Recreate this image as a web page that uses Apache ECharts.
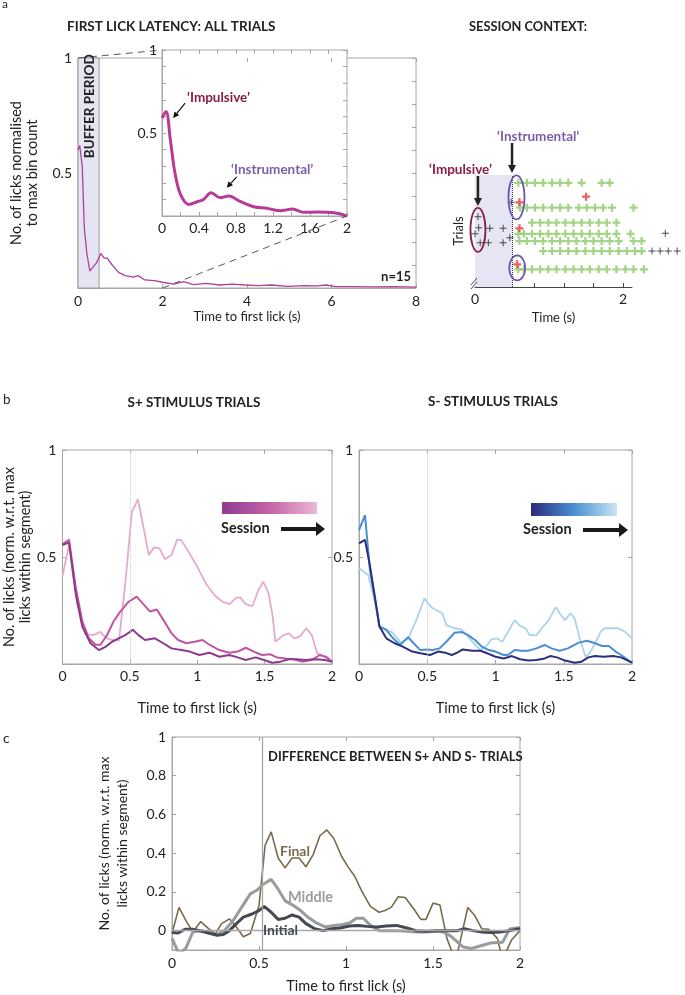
<!DOCTYPE html>
<html><head><meta charset="utf-8">
<script src="https://cdn.jsdelivr.net/npm/echarts@6/dist/echarts.min.js"></script>
<style>html,body{margin:0;padding:0;background:#fff}#c{width:685px;height:995px}</style>
</head><body><div id="c"></div>
<script>
// ================= DATA =================
// Panel a: first lick latency, all trials (0-8 s)
const allTrialsTime  = [0,0.04,0.1,0.15,0.21,0.28,0.35,0.44,0.54,0.62,0.69,0.81,0.96,1.12,1.31,1.42,1.58,1.81,2.0,2.27,2.5,2.73,3.04,3.35,3.65,3.96,4.27,4.58,4.96,5.35,5.65,5.88,6.1,6.5,7.0,7.5,8.0];
const allTrialsLicks = [0.6,0.62,0.53,0.26,0.15,0.073,0.09,0.11,0.15,0.13,0.13,0.10,0.068,0.054,0.047,0.054,0.035,0.032,0.025,0.017,0.028,0.015,0.02,0.013,0.017,0.013,0.01,0.013,0.007,0.01,0.009,0.013,0.006,0.006,0.005,0.006,0.004];
// Panel a inset (0-2 s)
const insetTime  = [0,0.043,0.09,0.14,0.2,0.29,0.38,0.45,0.53,0.63,0.72,0.85,0.99,1.14,1.28,1.41,1.53,1.68,1.86,2.0];
const insetLicks = [0.59,0.63,0.46,0.26,0.13,0.07,0.086,0.10,0.14,0.11,0.12,0.086,0.056,0.046,0.032,0.042,0.022,0.024,0.02,0.0];
// Panel a session context raster: trial rows and lick times
const greenRows = [9.3, 7.08, 5.74, 4.75, 4.1, 3.21, 1.58];
const greenLickTimes = [
  [0.585,0.70,0.81,0.92,1.04,1.15,1.26,1.44,1.71,1.82],
  [0.61,0.70,0.81,0.92,1.04,1.15,1.26,1.40,1.51,1.62,1.73,1.85,2.14],
  [0.77,0.88,0.99,1.10,1.22,1.33,1.44,1.55,1.67,1.78,1.91],
  [0.585,0.66,0.77,0.88,0.99,1.10,1.22,1.33,1.44,1.55,1.67,1.78,1.91,2.1],
  [0.6,0.7,0.81,0.92,1.04,1.15,1.26,1.37,1.49,1.6,1.71,1.82,1.94,2.14,2.25],
  [0.92,1.04,1.15,1.26,1.37,1.49,1.60,1.71,1.82,1.94,2.05,2.16,2.25],
  [0.585,0.66,0.77,0.88,0.99,1.10,1.22,1.33,1.44,1.55,1.67,1.78,1.91,2.03,2.14,2.28]
];
const blackLickTimes  = [0.04,0.05,0.0,0.07,0.2,0.38,0.18,0.38,0.47,0.49,2.57,2.39,2.5,2.61,2.73];
const blackLickTrials = [6.28,5.3,4.75,3.96,5.24,5.24,3.96,3.96,4.4,7.56,4.79,3.21,3.21,3.21,3.21];
const redLickTimes  = [1.5,0.6,0.6,0.57];
const redLickTrials = [8.06,7.56,5.24,2.03];
// Panel b: S+ stimulus trials
const sPlusInitialT = [0,0.049,0.098,0.147,0.208,0.27,0.319,0.368,0.417,0.466,0.522,0.564,0.613,0.686,0.748,0.809,0.882,0.944,1.017,1.09,1.164,1.238,1.3,1.36,1.434,1.495,1.556,1.618,1.679,1.74,1.8,1.875,1.95,2.0];
const sPlusInitialV = [0.556,0.567,0.33,0.175,0.097,0.065,0.08,0.104,0.12,0.135,0.16,0.135,0.112,0.12,0.097,0.073,0.065,0.058,0.042,0.053,0.034,0.042,0.031,0.019,0.031,0.019,0.006,0.011,0.022,0.022,0.019,0.022,0.019,0.01];
const sPlusMiddleT = [0,0.049,0.098,0.147,0.196,0.245,0.282,0.331,0.38,0.429,0.49,0.551,0.6,0.65,0.7,0.75,0.81,0.858,0.919,0.98,1.04,1.09,1.164,1.238,1.3,1.36,1.42,1.48,1.544,1.593,1.654,1.716,1.777,1.85,1.91,1.96,2.0];
const sPlusMiddleV = [0.56,0.58,0.36,0.2,0.12,0.09,0.09,0.135,0.2,0.245,0.29,0.315,0.28,0.245,0.255,0.205,0.143,0.112,0.097,0.104,0.112,0.09,0.065,0.053,0.058,0.076,0.058,0.042,0.045,0.03,0.026,0.022,0.011,0.019,0.042,0.031,0.01];
const sPlusFinalT = [0,0.05,0.11,0.17,0.23,0.28,0.33,0.38,0.42,0.47,0.515,0.56,0.61,0.64,0.68,0.72,0.76,0.81,0.85,0.88,0.94,1.0,1.07,1.13,1.19,1.24,1.29,1.32,1.36,1.41,1.45,1.49,1.53,1.56,1.58,1.64,1.68,1.72,1.76,1.81,1.85,1.89,1.92,1.96,2.0];
const sPlusFinalV = [0.41,0.56,0.28,0.14,0.135,0.15,0.12,0.11,0.11,0.40,0.71,0.77,0.61,0.51,0.545,0.54,0.49,0.51,0.58,0.58,0.52,0.455,0.37,0.32,0.29,0.28,0.31,0.31,0.28,0.27,0.34,0.385,0.33,0.22,0.104,0.135,0.143,0.12,0.128,0.167,0.135,0.05,0.042,0.034,0.01];
// Panel b: S- stimulus trials
const sMinusInitialT = [0,0.044,0.08,0.12,0.15,0.2,0.26,0.32,0.39,0.45,0.52,0.58,0.63,0.68,0.72,0.76,0.83,0.89,0.94,1.0,1.06,1.12,1.18,1.24,1.3,1.36,1.4,1.45,1.51,1.58,1.63,1.68,1.73,1.79,1.86,1.92,2.0];
const sMinusInitialV = [0.564,0.58,0.46,0.30,0.175,0.12,0.097,0.081,0.058,0.05,0.042,0.058,0.053,0.042,0.053,0.068,0.062,0.062,0.05,0.034,0.026,0.037,0.022,0.016,0.019,0.026,0.037,0.031,0.016,0.006,0.011,0.031,0.037,0.034,0.037,0.031,0.006];
const sMinusMiddleT = [0,0.044,0.08,0.12,0.15,0.2,0.25,0.3,0.36,0.4,0.45,0.5,0.54,0.59,0.64,0.7,0.75,0.8,0.85,0.9,0.95,1.0,1.06,1.09,1.14,1.19,1.24,1.3,1.36,1.41,1.47,1.53,1.61,1.67,1.73,1.78,1.83,1.88,1.92,2.0];
const sMinusMiddleV = [0.626,0.696,0.44,0.29,0.175,0.16,0.12,0.09,0.125,0.097,0.065,0.068,0.065,0.073,0.104,0.146,0.15,0.135,0.112,0.081,0.065,0.058,0.042,0.042,0.065,0.062,0.062,0.073,0.089,0.073,0.062,0.073,0.1,0.109,0.097,0.084,0.084,0.058,0.042,0.006];
const sMinusFinalT = [0,0.068,0.12,0.15,0.2,0.24,0.28,0.31,0.36,0.42,0.48,0.53,0.57,0.61,0.64,0.7,0.75,0.79,0.84,0.89,0.94,0.97,1.01,1.05,1.1,1.14,1.18,1.22,1.25,1.3,1.35,1.39,1.44,1.47,1.51,1.55,1.58,1.62,1.66,1.69,1.73,1.77,1.8,1.85,1.9,1.95,2.0];
const sMinusFinalV = [0.447,0.416,0.28,0.175,0.16,0.15,0.12,0.097,0.12,0.205,0.307,0.265,0.25,0.237,0.182,0.167,0.162,0.135,0.097,0.065,0.089,0.115,0.12,0.104,0.16,0.205,0.178,0.167,0.135,0.135,0.175,0.205,0.265,0.237,0.205,0.237,0.213,0.112,0.034,0.05,0.097,0.15,0.167,0.167,0.167,0.15,0.12];
// Panel c: difference between S+ and S- trials
const diffInitialT = [0,0.035,0.075,0.12,0.17,0.22,0.26,0.295,0.33,0.37,0.41,0.46,0.5,0.53,0.57,0.61,0.65,0.69,0.73,0.77,0.82,0.87,0.92,0.965,1.02,1.07,1.12,1.18,1.23,1.29,1.35,1.4,1.46,1.52,1.58,1.64,1.68,1.73,1.78,1.83,1.885,1.94,2.0];
const diffInitialV = [-0.01,-0.012,0.007,0.007,-0.003,-0.015,-0.024,-0.02,0.0,0.036,0.07,0.086,0.103,0.125,0.095,0.058,0.064,0.081,0.07,0.036,0.01,0.0,0.01,0.014,0.024,0.027,0.022,0.019,0.024,0.027,0.014,0.0,-0.003,0.0,0.0,0.0,0.01,0.0,-0.007,-0.01,-0.007,0.0,0.01];
const diffMiddleT = [0,0.04,0.08,0.12,0.17,0.22,0.26,0.3,0.35,0.4,0.45,0.49,0.525,0.57,0.61,0.65,0.7,0.735,0.78,0.83,0.88,0.93,0.975,1.02,1.06,1.1,1.14,1.19,1.23,1.29,1.35,1.4,1.46,1.52,1.56,1.6,1.64,1.67,1.72,1.83,1.9,1.94,2.0];
const diffMiddleV = [-0.04,-0.12,-0.09,-0.007,0.0,-0.01,-0.02,0.0,0.05,0.12,0.19,0.21,0.24,0.265,0.214,0.154,0.129,0.107,0.07,0.04,0.019,0.027,0.03,0.04,0.064,0.064,0.027,0.0,0.0,0.0,-0.003,-0.007,-0.007,-0.003,-0.007,-0.027,-0.058,-0.083,-0.092,-0.064,-0.06,0.008,0.016];
const diffFinalT = [0,0.04,0.085,0.12,0.165,0.21,0.25,0.285,0.33,0.37,0.41,0.45,0.5,0.535,0.57,0.61,0.65,0.69,0.73,0.77,0.81,0.85,0.89,0.93,0.975,1.01,1.05,1.09,1.14,1.19,1.22,1.26,1.3,1.34,1.39,1.43,1.46,1.5,1.54,1.58,1.63,1.7,1.74,1.78,1.82,1.87,1.9,1.95,2.0];
const diffFinalV = [-0.015,0.12,0.044,-0.007,0.047,0.01,-0.015,0.036,0.061,0.019,-0.032,-0.015,0.129,0.44,0.51,0.375,0.324,0.375,0.375,0.33,0.39,0.49,0.52,0.476,0.383,0.332,0.281,0.205,0.125,0.095,0.103,0.12,0.175,0.171,0.112,0.058,0.058,0.142,0.132,-0.04,-0.16,0.12,0.078,0.01,0.007,-0.04,-0.15,-0.05,0.0];

// ================= CHART =================
const FONT = 'Lato, "Open Sans", sans-serif';
const AX = '#a6a6a6';
const TXT = '#222';
const chart = echarts.init(document.getElementById('c'), null, {renderer: 'canvas'});
const zip = (xs, ys) => xs.map((x, i) => [x, ys[i]]);
const rng = (a, b, s) => { const r = []; for (let v = a; v <= b + 1e-9; v += s) r.push(+v.toFixed(4)); return r; };

function axis(kind, g, min, max, o) {
  o = o || {};
  return {
    type: 'value', gridIndex: g, min: min, max: max, position: o.position,
    show: true, scale: false,
    axisLine: {show: o.line !== false, onZero: false, lineStyle: {color: o.lineColor || AX, width: 1}},
    axisTick: {show: !!o.ticks, inside: true, length: o.tickLen || 4, customValues: o.ticks, lineStyle: {color: o.lineColor || AX}},
    minorTick: {show: false},
    splitLine: {show: false},
    axisLabel: {show: !!o.labels, customValues: o.labels, margin: o.margin || 6, color: TXT, fontSize: o.fs || 14, fontFamily: FONT},
    name: o.name || '', nameLocation: 'middle', nameGap: o.nameGap || 20, nameRotate: kind === 'y' ? 90 : 0,
    nameTextStyle: {color: TXT, fontSize: o.nfs || 14, fontFamily: FONT, lineHeight: o.nlh || 16}
  };
}

const grids = [
  {left: 68, top: 58, width: 348, height: 230, show: true, borderColor: AX, borderWidth: 1, backgroundColor: 'transparent'},  // 0 main a
  {left: 162, top: 50, width: 185, height: 166, show: true, borderColor: AX, borderWidth: 1, backgroundColor: '#fff'},       // 1 inset
  {left: 475, top: 175, width: 157, height: 112, show: false},                                                                // 2 raster
  {left: 60, top: 450, width: 272, height: 214, show: true, borderColor: AX, borderWidth: 1},                                 // 3 b left
  {left: 359, top: 450, width: 273, height: 214, show: true, borderColor: AX, borderWidth: 1},                                // 4 b right
  {left: 172, top: 737, width: 348, height: 214, show: true, borderColor: AX, borderWidth: 1}                                 // 5 c
];
const tB = [0, 0.5, 1, 1.5, 2];
const xAxes = [
  axis('x', 0, 0, 8, {position: 'bottom', ticks: [0, 2, 4, 6, 8], labels: [0, 2, 4, 6, 8], name: 'Time to first lick (s)', nameGap: 21, nfs: 13}),
  axis('x', 1, 0, 2, {position: 'bottom', ticks: rng(0, 2, 0.2), labels: [0, 0.4, 0.8, 1.2, 1.6, 2], margin: 5}),
  axis('x', 2, 0, 2.12, {position: 'bottom', ticks: rng(0, 2, 0.4), labels: [0, 2], lineColor: '#444', name: 'Time (s)', nameGap: 23, margin: 5, nfs: 13}),
  axis('x', 3, 0, 2, {position: 'bottom', ticks: tB, labels: tB, name: 'Time to first lick (s)', nameGap: 36, margin: 5, nfs: 14.5}),
  axis('x', 4, 0, 2, {position: 'bottom', ticks: tB, labels: tB, name: 'Time to first lick (s)', nameGap: 36, margin: 5, nfs: 14.5}),
  axis('x', 5, 0, 2, {position: 'bottom', ticks: tB, labels: tB, name: 'Time to first lick (s)', nameGap: 28, margin: 6, nfs: 14.5}),
  axis('x', 0, 0, 8, {position: 'top', ticks: [0, 2, 4, 6, 8], line: false}),
  axis('x', 1, 0, 2, {position: 'top', ticks: rng(0, 2, 0.2), line: false}),
  axis('x', 3, 0, 2, {position: 'top', ticks: tB, line: false}),
  axis('x', 4, 0, 2, {position: 'top', ticks: tB, line: false}),
  axis('x', 5, 0, 2, {position: 'top', ticks: tB, line: false})
];
const yAxes = [
  axis('y', 0, 0, 1, {position: 'left', ticks: rng(0, 1, 0.1), labels: [0.5, 1], name: 'No. of licks normalised\nto max bin count', nameGap: 38, nfs: 14.5}),
  axis('y', 1, 0, 1, {position: 'left', ticks: rng(0, 1, 0.1), labels: [0.5, 1], margin: 5}),
  axis('y', 2, 0, 10, {position: 'left', lineColor: '#555', name: 'Trials', nameGap: 8, nfs: 13}),
  axis('y', 3, 0, 1, {position: 'left', ticks: [0, 0.5, 1], labels: [0.5, 1], name: 'No. of licks (norm. w.r.t. max\nlicks within segment)', nameGap: 25, nfs: 14.5}),
  axis('y', 4, 0, 1, {position: 'left', ticks: [0, 0.5, 1], labels: [0.5, 1]}),
  axis('y', 5, -0.1, 1, {position: 'left', ticks: rng(0, 1, 0.2), labels: rng(0, 1, 0.2), name: 'No. of licks (norm. w.r.t. max\nlicks within segment)', nameGap: 41, nfs: 14, nlh: 18}),
  axis('y', 0, 0, 1, {position: 'right', ticks: rng(0, 1, 0.1), line: false}),
  axis('y', 1, 0, 1, {position: 'right', ticks: rng(0, 1, 0.1), line: false}),
  axis('y', 3, 0, 1, {position: 'right', ticks: [0, 0.5, 1], line: false}),
  axis('y', 4, 0, 1, {position: 'right', ticks: [0, 0.5, 1], line: false}),
  axis('y', 5, -0.1, 1, {position: 'right', ticks: rng(0, 1, 0.2), line: false})
];

function lineS(xi, xs, ys, color, width, extra) {
  return Object.assign({type: 'line', xAxisIndex: xi, yAxisIndex: xi, data: zip(xs, ys), symbol: 'none', showSymbol: false,
    lineStyle: {color: color, width: width}, itemStyle: {color: color}, animation: false, silent: true}, extra || {});
}
const CROSS_THIN = 'path://M4.3,0H5.7V4.3H10V5.7H5.7V10H4.3V5.7H0V4.3H4.3Z';
const CROSS_BOLD = 'path://M3.6,0H6.4V3.6H10V6.4H6.4V10H3.6V6.4H0V3.6H3.6Z';
const greenData = [];
greenRows.forEach((tr, i) => greenLickTimes[i].forEach(t => greenData.push([t, tr])));

const series = [
  // 0 buffer shading on main a
  {type: 'line', xAxisIndex: 0, yAxisIndex: 0, data: [], silent: true,
   markArea: {silent: true, itemStyle: {color: '#e5e4f2', borderColor: '#9a9a9a', borderWidth: 1}, data: [[{xAxis: 0}, {xAxis: 0.5}]]}},
  // 1 main a line
  lineS(0, allTrialsTime, allTrialsLicks, '#b0409a', 1.3),
  // 2 inset line
  lineS(1, insetTime, insetLicks, '#b83a96', 3, {smooth: 0.35}),
  // 3 raster buffer & dotted line
  {type: 'line', xAxisIndex: 2, yAxisIndex: 2, data: [], silent: true,
   markArea: {silent: true, itemStyle: {color: '#e6e5f3'}, data: [[{xAxis: 0}, {xAxis: 0.5}]]},
   markLine: {silent: true, symbol: 'none', label: {show: false}, lineStyle: {color: '#333', type: 'dotted', width: 1}, data: [{xAxis: 0.5}]}},
  // 4-6 raster licks
  {type: 'scatter', xAxisIndex: 2, yAxisIndex: 2, data: greenData, symbol: CROSS_BOLD, symbolSize: 8, clip: false, itemStyle: {color: '#8cc966'}, silent: true, animation: false},
  {type: 'scatter', xAxisIndex: 2, yAxisIndex: 2, data: zip(blackLickTimes, blackLickTrials), symbol: CROSS_THIN, symbolSize: 7, clip: false, itemStyle: {color: '#1e1e1e'}, silent: true, animation: false},
  {type: 'scatter', xAxisIndex: 2, yAxisIndex: 2, data: zip(redLickTimes, redLickTrials), symbol: CROSS_BOLD, symbolSize: 8, clip: false, itemStyle: {color: '#e23a3a'}, silent: true, animation: false},
  // 7-9 S+ lines
  lineS(3, sPlusFinalT, sPlusFinalV, '#e6a9cf', 1.8, {markLine: {silent: true, symbol: 'none', label: {show: false}, lineStyle: {color: '#cfcfcf', type: 'dotted', width: 1}, data: [{xAxis: 0.5}]}}),
  lineS(3, sPlusMiddleT, sPlusMiddleV, '#c2559f', 2),
  lineS(3, sPlusInitialT, sPlusInitialV, '#8c3a8d', 2),
  // 10-12 S- lines
  lineS(4, sMinusFinalT, sMinusFinalV, '#a9d4ea', 1.8, {markLine: {silent: true, symbol: 'none', label: {show: false}, lineStyle: {color: '#cfcfcf', type: 'dotted', width: 1}, data: [{xAxis: 0.5}]}}),
  lineS(4, sMinusMiddleT, sMinusMiddleV, '#4a8fd1', 2),
  lineS(4, sMinusInitialT, sMinusInitialV, '#2f2e7e', 2),
  // 13-15 difference lines
  lineS(5, diffFinalT, diffFinalV, '#7a6a4d', 1.6, {markLine: {silent: true, symbol: 'none', label: {show: false}, lineStyle: {color: '#a8a8a8', type: 'solid', width: 1.3}, data: [{xAxis: 0.52}, {yAxis: 0}]}}),
  lineS(5, diffMiddleT, diffMiddleV, '#9b9b9b', 3),
  lineS(5, diffInitialT, diffInitialV, '#434a52', 3)
];

chart.setOption({animation: false, grid: grids, xAxis: xAxes, yAxis: yAxes, series: series});

// ================= ANNOTATIONS =================
const P = (si, v) => chart.convertToPixel({seriesIndex: si}, v);
const G = [];
function txt(t, x, y, o) {
  o = o || {};
  G.push({type: 'text', x: x, y: y, rotation: o.rot || 0, z: 100,
    style: {text: t, fill: o.color || TXT, font: (o.bold ? 'bold ' : '') + (o.fs || 13) + 'px ' + FONT,
      align: o.align || 'left', verticalAlign: 'middle'}});
}
function seg(a, b, color, w, dash) {
  G.push({type: 'line', z: 90, shape: {x1: a[0], y1: a[1], x2: b[0], y2: b[1]},
    style: {stroke: color, lineWidth: w, lineDash: dash || null}});
}
function arrow(a, b, color, w, hl, hw) {
  const dx = b[0] - a[0], dy = b[1] - a[1], L = Math.hypot(dx, dy), ux = dx / L, uy = dy / L;
  const base = [b[0] - ux * hl, b[1] - uy * hl];
  seg(a, base, color, w);
  G.push({type: 'polygon', z: 90, shape: {points: [b, [base[0] - uy * hw, base[1] + ux * hw], [base[0] + uy * hw, base[1] - ux * hw]]},
    style: {fill: color}});
}
function ell(c, rx, ry, color) {
  G.push({type: 'ellipse', z: 95, shape: {cx: c[0], cy: c[1], rx: rx, ry: ry}, style: {fill: 'none', stroke: color, lineWidth: 1.8}});
}

// panel letters & titles
txt('a', 2, 4, {fs: 12});
txt('b', 3, 400, {fs: 13.5});
txt('c', 3, 739, {fs: 13.5});
txt('FIRST LICK LATENCY: ALL TRIALS', 67, 27, {bold: true, fs: 13.5});
txt('SESSION CONTEXT:', 528, 27, {bold: true, fs: 12.8, align: 'center'});
txt('S+ STIMULUS TRIALS', 194, 403, {bold: true, fs: 13.5, align: 'center'});
txt('S- STIMULUS TRIALS', 493, 402, {bold: true, fs: 13.5, align: 'center'});
txt('DIFFERENCE BETWEEN S+ AND S- TRIALS', 268, 757, {bold: true, fs: 13});
txt('n=15', 411, 277, {bold: true, fs: 13, align: 'right'});

// buffer period label (rotated)
const bp = P(1, [0.25, 0.79]);
txt('BUFFER PERIOD', bp[0] + 1, bp[1], {bold: true, fs: 13.5, align: 'center', rot: Math.PI / 2});

// zoom dashed lines from main panel to inset
seg(P(1, [0, 1]), P(2, [0, 1]), '#555', 1, [7, 5]);
seg(P(1, [2, 0]), P(2, [2, 0]), '#555', 1, [7, 5]);

// inset annotations
txt('\u2018Impulsive\u2019', 187, 98, {bold: true, fs: 13.5, color: '#8a1c45'});
const ti = P(2, [0.12, 0.59]);
arrow([ti[0] + 12, ti[1] - 15], ti, '#111', 1.2, 6, 3);
txt('\u2018Instrumental\u2019', 231, 170, {bold: true, fs: 13.5, color: '#7b5ea7'});
const tn = P(2, [0.7, 0.17]);
arrow([tn[0] + 10, tn[1] - 11], tn, '#111', 1.2, 6, 3);

// raster annotations
txt('\u2018Instrumental\u2019', 497, 137, {bold: true, fs: 13.5, color: '#7b5ea7'});
txt('\u2018Impulsive\u2019', 429, 170, {bold: true, fs: 13.5, color: '#8a1c45'});
const ai = P(4, [0.5, 10]);
arrow([ai[0], 143], [ai[0], 173], '#222', 2.5, 8, 4);
const ap = P(4, [0.04, 10]);
arrow([ap[0], 176], [ap[0], 206], '#222', 2.5, 8, 4);
ell(P(4, [0.04, 5.1]), 7.5, 22, '#8a1c45');
ell(P(4, [0.56, 8.0]), 8, 22, '#6f55a8');
ell(P(4, [0.57, 1.7]), 8, 12.5, '#6f55a8');
const o0 = P(4, [0, 0]);
seg([o0[0] - 4, o0[1] - 2], [o0[0] + 2, o0[1] - 9], '#444', 1);
seg([o0[0] - 4, o0[1] + 2], [o0[0] + 2, o0[1] - 5], '#444', 1);

// session gradient bars & arrows
function sessionBar(x1, x2, y1, y2, cols, tx, ty) {
  G.push({type: 'rect', z: 90, shape: {x: x1, y: y1, width: x2 - x1, height: y2 - y1},
    style: {fill: new echarts.graphic.LinearGradient(0, 0, 1, 0, cols.map((c, i) => ({offset: i / (cols.length - 1), color: c})))}});
  txt('Session', tx, ty, {bold: true, fs: 14.5});
}
sessionBar(222, 317, 502, 514, ['#8e3a93', '#c463a7', '#ebb8d6'], 221, 528);
arrow([281, 529], [325, 529], '#1a1a1a', 4, 9, 7);
sessionBar(531, 617, 503, 516, ['#2d2b7b', '#4a8fd2', '#c9e4f1'], 523, 529);
arrow([583, 530], [628, 530], '#1a1a1a', 4, 9, 7);

// panel c line labels
txt('Final', 280, 851, {bold: true, fs: 14, color: '#7a6a4d'});
txt('Middle', 288, 897, {bold: true, fs: 14.5, color: '#9d9d9d'});
txt('Initial', 263, 930, {bold: true, fs: 14, color: '#434a52'});

chart.setOption({graphic: G});
</script>
</body></html>
